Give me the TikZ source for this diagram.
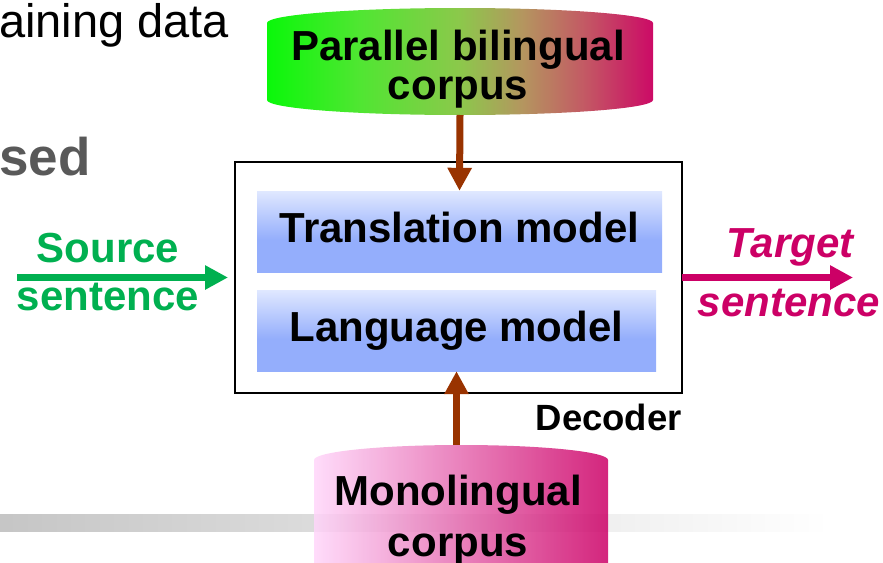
\documentclass[tikz,border=0pt]{standalone}
\usepackage{fontspec}
\setmainfont{Liberation Sans}
\usetikzlibrary{arrows.meta}

\definecolor{srcgreen}{RGB}{0,176,80}
\definecolor{tgtred}{RGB}{204,0,102}
\definecolor{feedbrown}{RGB}{153,51,0}
\definecolor{subgray}{RGB}{89,89,89}
\definecolor{pg0}{RGB}{10,248,10}
\definecolor{pg1}{RGB}{80,230,50}
\definecolor{pg2}{RGB}{140,200,75}
\definecolor{pg3}{RGB}{180,150,95}
\definecolor{pg4}{RGB}{195,90,100}
\definecolor{pg5}{RGB}{204,10,102}
\definecolor{mT}{RGB}{224,232,255}
\definecolor{mB}{RGB}{148,174,252}
\definecolor{monoL}{RGB}{255,214,250}
\definecolor{monoR}{RGB}{204,0,102}

\pgfdeclarehorizontalshading{parshade}{100bp}{color(0bp)=(pg0); color(25bp)=(pg0); color(37bp)=(pg1); color(50bp)=(pg2); color(58bp)=(pg3); color(66bp)=(pg4); color(75bp)=(pg5); color(100bp)=(pg5)}
\pgfdeclareverticalshading{modelshade}{100bp}{color(0bp)=(mB); color(25bp)=(mB); color(45bp)=(mB); color(75bp)=(mT); color(100bp)=(mT)}

\tikzset{
  frame/.style={inner sep=0pt, outer sep=0pt},
  bigtext/.style={font=\bfseries\fontsize{42}{#1}\selectfont, inner sep=0pt},
  bigtext/.default=50,
  modelbox/.style={shade, shading=modelshade, inner sep=0pt, minimum height=81, text height=31pt, text depth=9pt, font=\bfseries\fontsize{42}{50}\selectfont},
  flow/.style={line width=7pt, -{Triangle[length=23pt, width=23pt]}}
}

\begin{document}
\begin{tikzpicture}[x=1pt,y=1pt,yscale=-1,xscale=1]
        \useasboundingbox (0,0) rectangle (883,562);

        %Shape: Bar [id:bar]
        \shade[left color=gray!45, right color=white] (0,514) rectangle (830,531);

        %Shape: Can [id:par]
        \node (par) [frame, minimum width=386, minimum height=107] at (460,61.5) {};
        \shade[shading=parshade] (par.north west) ++(0,15) arc[start angle=180, end angle=360, x radius=193, y radius=15] -- ++(0,77) arc[start angle=0, end angle=180, x radius=193, y radius=15] -- cycle;
        %Shape: Can [id:mono]
        \node (mono) [frame, minimum width=294, minimum height=135] at (461,512.5) {};
        \shade[left color=monoL, right color=monoR, fill opacity=0.85] (mono.north west) ++(0,15) arc[start angle=180, end angle=360, x radius=147, y radius=15] -- ++(0,105) arc[start angle=0, end angle=180, x radius=147, y radius=15] -- cycle;

        %Shape: Rectangle [id:dec]
        \node (dec) [frame, draw, line width=2pt, minimum width=447, minimum height=231] at (458.5,277.5) {};
        %Shape: Rectangle [id:trans]
        \node (trans) [modelbox, minimum width=405] at (459.5,231.5) {Translation model};
        %Shape: Rectangle [id:lang]
        \node (lang) [modelbox, minimum width=399] at (456.5,330.5) {Language model};

        %Straight Lines [id:feeds]
        \draw[flow, feedbrown] (par.south) -- (trans.north);
        \draw[flow, feedbrown] (mono.north -| lang.south) -- (lang.south);
        %Straight Lines [id:io]
        \coordinate (srcin) at (17,277.5);
        \coordinate (tgtout) at (853,277.5);
        \draw[flow, srcgreen, shorten >=7pt] (srcin) -- (dec.west);
        \draw[flow, tgtred] (dec.east) -- (tgtout);

        % Text Node
        \node (partxt) [bigtext=39, align=center] at (458,69.5) {Parallel bilingual\\corpus};
        % Text Node
        \node (monotxt) [bigtext=51, align=center] at (458,520.5) {Monolingual\\corpus};
        % Text Node
        \node (srcA) [bigtext, srcgreen, anchor=base] at (108,262) {Source};
        % Text Node
        \node (srcB) [bigtext, srcgreen, anchor=base] at (108,310) {sentence};
        % Text Node
        \node (tgtA) [bigtext, tgtred, anchor=base] at (790,257) {\itshape Target};
        % Text Node
        \node (tgtB) [bigtext, tgtred, anchor=base] at (789,316) {\itshape sentence};
        % Text Node
        \node (decname) [anchor=base east, inner sep=0pt, font=\bfseries\fontsize{36.5}{40}\selectfont] at (682,430) {Decoder};
        % Text Node
        \node (title) [anchor=base west, inner sep=0pt, font=\fontsize{47}{52}\selectfont] at (-1,37) {aining data};
        % Text Node
        \node (sub) [anchor=base west, inner sep=0pt, subgray, font=\bfseries\fontsize{53}{57}\selectfont] at (-1,175) {sed};
\end{tikzpicture}
\end{document}
